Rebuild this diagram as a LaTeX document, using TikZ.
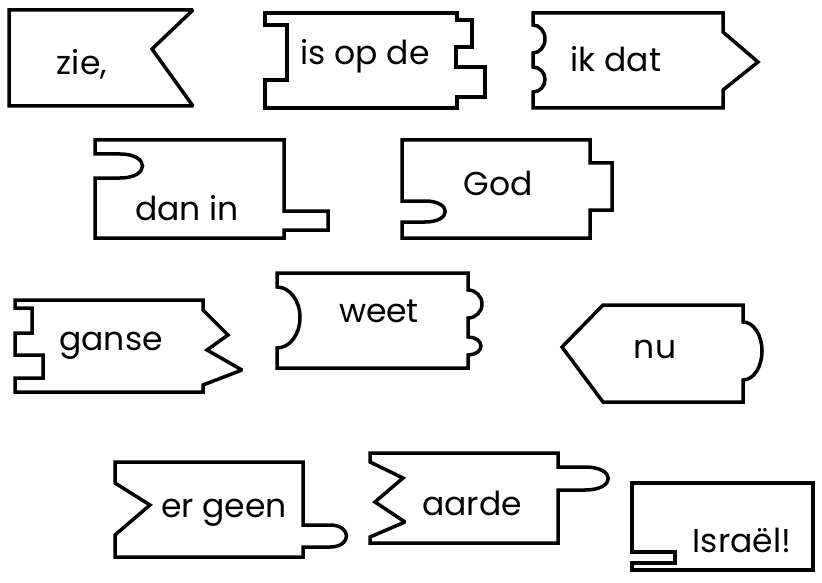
\documentclass[tikz,border=0pt]{standalone}
\usepackage{fontspec}
\setmainfont{Poppins}
\tikzset{
  piece/.style={draw, line width=3.5pt, miter limit=2},
  word/.style={anchor=base, inner sep=0pt, font=\fontsize{33}{36}\selectfont},
}
\begin{document}
\begin{tikzpicture}[x=1pt, y=-1pt]
    \useasboundingbox (0,0) rectangle (822,583);

    \draw[piece] (9,10) -- (193,10) -- (152,49) -- (193,106) -- (9,106) -- cycle;
    \node[word] (zie) at (82,75) {zie,};

    \draw[piece] (265,13) -- (457,13) -- (457,20) -- (472,20) -- (472,47) -- (456,47)
      -- (456,67) -- (485,67) -- (485,97) -- (457,97) -- (457,108) -- (265,108)
      -- (265,80) -- (287,80) -- (287,25) -- (265,25) -- cycle;
    \node[word] (isopde) at (365,65) {is op de};

    \draw[piece] (533,13) -- (723,13) -- (723,32) -- (758,62) -- (723,90) -- (723,108)
      -- (533,108) -- (533,92) arc[start angle=-90, end angle=90, x radius=12pt, y radius=12.5pt]
      -- (533,53) arc[start angle=-90, end angle=90, x radius=12pt, y radius=14pt] -- cycle;
    \node[word] (ikdat) at (616,72) {ik dat};

    \draw[piece] (95,140) -- (284,140) -- (284,211) -- (328,211) -- (328,230) -- (284,230)
      -- (284,238) -- (95,238) -- (95,178) -- (120,178) .. controls (150,178) and (150,154) .. (120,154)
      -- (95,154) -- cycle;
    \node[word] (danin) at (187,220) {dan in};

    \draw[piece] (402,140) -- (590,140) -- (590,163) -- (612,163) -- (612,210) -- (590,210)
      -- (590,238) -- (402,238) -- (402,222) -- (425,222) .. controls (452,222) and (452,201) .. (425,201)
      -- (402,201) -- cycle;
    \node[word] (god) at (498,195) {God};

    \draw[piece] (15,300) -- (203,300) -- (203,310) -- (228,335) -- (207,350) -- (242,370)
      -- (203,385) -- (203,392) -- (15,392) -- (15,378) -- (43,378) -- (43,355) -- (15,355)
      -- (15,333) -- (32,333) -- (32,308) -- (15,308) -- cycle;
    \node[word] (ganse) at (111,350) {ganse};

    \draw[piece] (277,273) -- (468,273) -- (468,290) arc[start angle=90, end angle=-90, radius=14pt]
      -- (468,337) arc[start angle=90, end angle=-90, x radius=13pt, y radius=9pt]
      -- (468,368) -- (277,368) -- (277,348) arc[start angle=-90, end angle=90, x radius=23pt, y radius=30.5pt]
      -- cycle;
    \node[word] (weet) at (379,322) {weet};

    \draw[piece] (603,305) -- (743,305) -- (743,322) arc[start angle=90, end angle=-90, x radius=19pt, y radius=29pt]
      -- (743,402) -- (603,402) -- (562,347) -- cycle;
    \node[word] (nu) at (655,358) {nu};

    \draw[piece] (115,462) -- (303,462) -- (303,525) -- (330,525) .. controls (352,525) and (352,547) .. (330,547)
      -- (303,547) -- (303,557) -- (115,557) -- (115,535) -- (150,505) -- (115,483) -- cycle;
    \node[word] (ergeen) at (224,517) {er geen};

    \draw[piece] (370,453) -- (558,453) -- (558,467) -- (585,467) .. controls (616,467) and (616,490) .. (585,490)
      -- (558,490) -- (558,543) -- (370,543) -- (370,537) -- (405,522) -- (375,502) -- (403,478)
      -- (370,462) -- cycle;
    \node[word] (aarde) at (472,515) {aarde};

    \draw[piece] (632,483) -- (813,483) -- (813,570) -- (632,570) -- (632,563) -- (675,563)
      -- (675,552) -- (632,552) -- cycle;
    \node[word] (israel) at (742,552) {Israël!};
\end{tikzpicture}
\end{document}
